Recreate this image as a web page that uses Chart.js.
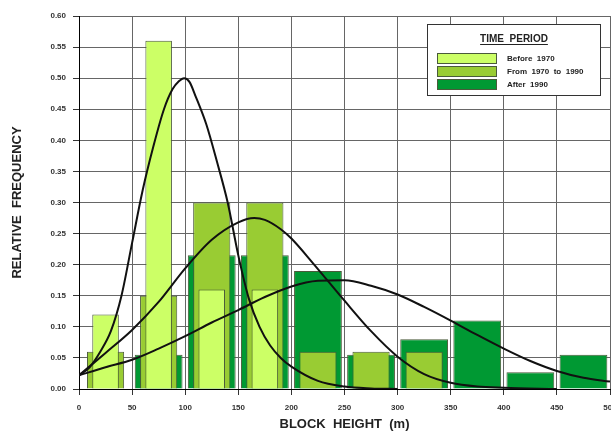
<!DOCTYPE html>
<html>
<head>
<meta charset="utf-8">
<script src="https://cdn.jsdelivr.net/npm/chart.js@4.4.0/dist/chart.umd.min.js"></script>
<style>
html, body { margin: 0; padding: 0; background: #fff; overflow: hidden; }
</style>
</head>
<body>
<canvas id="myChart" width="611" height="432"></canvas>
<script>
// 50 m bins, x = centre of each bin
var binCenters = [25, 75, 125, 175, 225, 275, 325, 375, 425, 475];
var before1970 = [0.12, 0.56, 0.16, 0.16, null, null, null, null, null, null];
var from1970to1990 = [0.06, 0.15, 0.30, 0.30, 0.06, 0.06, 0.06, null, null, null];
var after1990 = [null, 0.055, 0.215, 0.215, 0.19, 0.055, 0.08, 0.11, 0.027, 0.055];

// fitted curves
var curve1X = [0, 10, 20, 30, 40, 50, 60, 70, 80, 88, 94, 99, 104, 110, 120, 130, 140, 150, 160, 170, 180, 190, 200, 225, 250, 275, 300];
var curve1Y = [0.022, 0.035, 0.06, 0.093, 0.15, 0.235, 0.32, 0.39, 0.45, 0.482, 0.495, 0.50, 0.494, 0.47, 0.425, 0.365, 0.30, 0.215, 0.145, 0.10, 0.07, 0.05, 0.036, 0.013, 0.004, 0.001, 0.0];
var curve2X = [0, 25, 50, 75, 100, 125, 150, 165, 175, 190, 200, 220, 250, 275, 300, 325, 350, 375, 400, 450];
var curve2Y = [0.022, 0.058, 0.095, 0.14, 0.194, 0.24, 0.268, 0.275, 0.272, 0.257, 0.242, 0.203, 0.142, 0.093, 0.052, 0.024, 0.01, 0.004, 0.002, 0.0];
var curve3X = [0, 25, 50, 75, 100, 125, 150, 175, 200, 225, 250, 275, 300, 325, 350, 375, 400, 425, 450, 475, 500];
var curve3Y = [0.022, 0.035, 0.047, 0.065, 0.085, 0.107, 0.127, 0.148, 0.165, 0.174, 0.175, 0.166, 0.152, 0.132, 0.11, 0.087, 0.065, 0.045, 0.029, 0.018, 0.012];

var periodLabels = ['Before  1970', 'From  1970  to  1990', 'After  1990'];
var periodColors = ['#ccff66', '#99cc33', '#009933'];

function toPoints(xs, ys) {
    var pts = [];
    xs.forEach(function(x, i) {
        if (ys[i] !== null) pts.push({x: x, y: ys[i]});
    });
    return pts;
}

function curveSet(xs, ys) {
    return {
        type: 'line',
        data: toPoints(xs, ys),
        borderColor: '#111',
        borderWidth: 2,
        pointRadius: 0,
        cubicInterpolationMode: 'monotone',
        fill: false
    };
}

function barSet(i, values, pct) {
    return {
        type: 'bar',
        label: periodLabels[i],
        data: toPoints(binCenters, values),
        backgroundColor: periodColors[i],
        borderColor: '#4a5a3a',
        borderWidth: 1,
        barPercentage: pct,
        categoryPercentage: 1,
        grouped: false
    };
}

// legend box drawn inside the plot
var legendBox = {
    id: 'legendBox',
    afterDraw: function(chart) {
        var ctx = chart.ctx;
        ctx.save();
        ctx.fillStyle = '#fff';
        ctx.fillRect(427.5, 24.5, 173, 71);
        ctx.strokeStyle = '#333';
        ctx.lineWidth = 1;
        ctx.strokeRect(427.5, 24.5, 173, 71);

        ctx.fillStyle = '#222';
        ctx.font = 'bold 10px "Liberation Sans", Arial, sans-serif';
        ctx.textAlign = 'center';
        ctx.textBaseline = 'middle';
        var title = 'TIME  PERIOD';
        ctx.fillText(title, 514, 39);
        var w = ctx.measureText(title).width;
        ctx.fillRect(514 - w / 2, 44, w, 1);

        ctx.textAlign = 'left';
        ctx.font = 'bold 8px "Liberation Sans", Arial, sans-serif';
        var rows = [53.5, 66.5, 79.5];
        chart.data.datasets.filter(function(d) { return d.type === 'bar'; }).forEach(function(d) {
            var idx = periodLabels.indexOf(d.label);
            var y = rows[idx];
            ctx.fillStyle = d.backgroundColor;
            ctx.fillRect(437.5, y, 59, 10);
            ctx.strokeStyle = '#4a5a3a';
            ctx.strokeRect(437.5, y, 59, 10);
            ctx.fillStyle = '#222';
            ctx.fillText(d.label, 507, y + 5.5);
        });
        ctx.restore();
    }
};

var tickFont = { family: '"Liberation Sans", Arial, sans-serif', size: 8, weight: 'bold' };
var titleFont = { family: '"Liberation Sans", Arial, sans-serif', size: 13, weight: 'bold' };

var ctx = document.getElementById('myChart').getContext('2d');
var myChart = new Chart(ctx, {
    type: 'bar',
    data: {
        datasets: [
            curveSet(curve1X, curve1Y),
            curveSet(curve2X, curve2Y),
            curveSet(curve3X, curve3Y),
            barSet(0, before1970, 0.5),
            barSet(1, from1970to1990, 0.7),
            barSet(2, after1990, 0.9)
        ]
    },
    options: {
        responsive: false,
        animation: false,
        layout: { padding: { top: 16, right: 1, left: 0, bottom: 0 } },
        plugins: { legend: { display: false }, tooltip: { enabled: false } },
        scales: {
            x: {
                type: 'linear',
                min: 0,
                max: 500,
                offset: false,
                ticks: { stepSize: 50, font: tickFont, color: '#333', padding: 8, maxRotation: 0, autoSkip: false },
                grid: { offset: false, color: '#666', tickLength: 6, tickColor: '#333' },
                border: { color: '#000', width: 1 },
                title: { display: true, text: 'BLOCK  HEIGHT  (m)', font: titleFont, color: '#222', padding: { top: 0, bottom: 0 } },
                afterFit: function(s) { s.height = 43; s.paddingLeft = 0; s.paddingRight = 0; }
            },
            y: {
                min: 0,
                max: 0.6,
                ticks: {
                    stepSize: 0.05, font: tickFont, color: '#333', padding: 7,
                    callback: function(v) { return v.toFixed(2); }
                },
                grid: { color: '#666', tickLength: 6, tickColor: '#333' },
                border: { color: '#000', width: 1 },
                title: { display: true, text: 'RELATIVE  FREQUENCY', font: titleFont, color: '#222', padding: { top: 10, bottom: 0 } },
                afterFit: function(s) { s.width = 79; s.paddingTop = 0; s.paddingBottom = 0; }
            }
        }
    },
    plugins: [legendBox]
});
</script>
</body>
</html>
